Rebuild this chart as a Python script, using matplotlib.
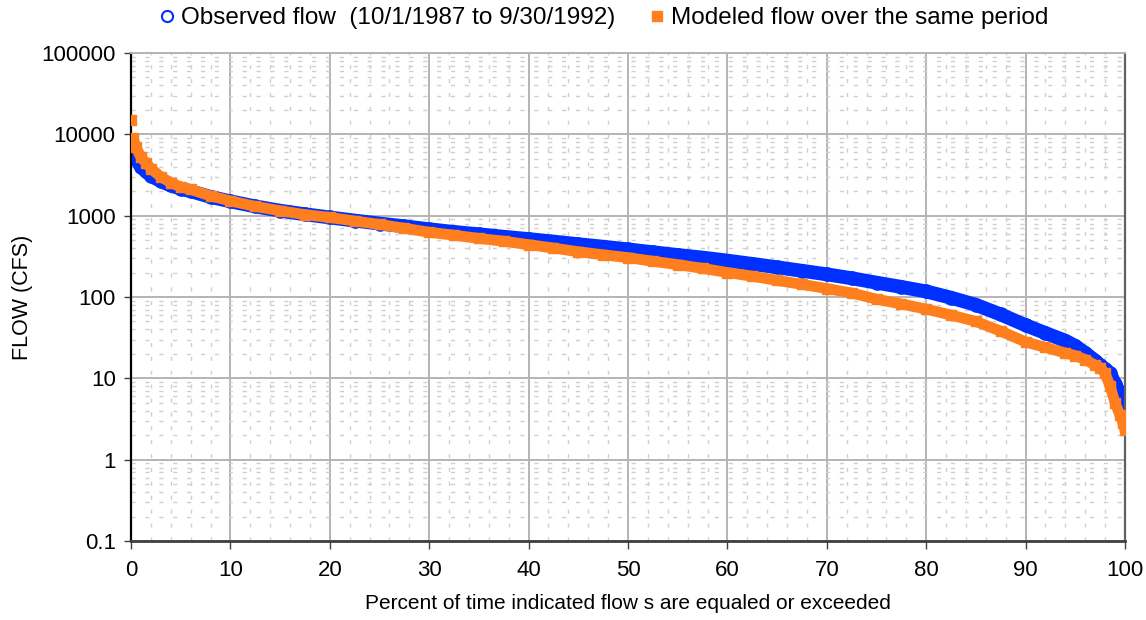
import matplotlib
matplotlib.use("Agg")
import matplotlib.pyplot as plt
from matplotlib.ticker import FixedLocator, MultipleLocator, FuncFormatter, LogLocator, NullFormatter
from matplotlib.lines import Line2D

# ---- data ----
pct = [0, 0.2, 0.5, 1, 1.5, 2, 3, 4, 5, 6, 8, 10, 12.5, 15, 17.5, 20, 22.5, 25, 27.5,
       30, 32.5, 35, 37.5, 40, 42.5, 45, 47.5, 50, 52.5, 55, 57.5, 60, 62.5, 65, 67.5,
       70, 72.5, 75, 77.5, 80, 82.5, 85, 87.5, 90, 92, 94, 95, 96, 97, 97.5, 98, 98.5,
       99, 99.5, 99.8, 100]
observed = [8500, 6500, 5000, 4000, 3500, 3100, 2650, 2350, 2150, 2000, 1700, 1500, 1300,
            1150, 1040, 950, 870, 800, 740, 680, 630, 590, 550, 515, 480, 445, 415, 385,
            355, 328, 305, 280, 255, 232, 210, 190, 170, 150, 133, 117, 98, 80, 61, 45,
            36, 29, 25, 20.5, 16.5, 14.5, 13, 11.5, 8.5, 6.5, 5, 4]
modeled = [15000, 9000, 7000, 5200, 4500, 3800, 3000, 2550, 2250, 2100, 1750, 1520, 1300,
           1150, 1030, 950, 860, 780, 700, 625, 575, 525, 485, 440, 400, 360, 330, 305,
           275, 250, 225, 200, 180, 160, 143, 127, 112, 94, 82, 71, 60, 50, 38, 28,
           24, 20.5, 19, 17, 14.5, 13.5, 11.5, 8, 5, 3.5, 2.8, 2.3]

obs_label = "Observed flow  (10/1/1987 to 9/30/1992)"
mod_label = "Modeled flow over the same period"
xlabel = "Percent of time indicated flow s are equaled or exceeded"
ylabel = "FLOW (CFS)"
x_ticks = [0, 10, 20, 30, 40, 50, 60, 70, 80, 90, 100]
y_ticks = [0.1, 1, 10, 100, 1000, 10000, 100000]

BLUE = "#0030FF"
ORANGE = "#FF7F1E"

plt.rcParams['font.family'] = ['Liberation Sans', 'DejaVu Sans']

fig = plt.figure(figsize=(11.46, 6.2), dpi=100)
ax = fig.add_axes([131/1146, 79/620, 994/1146, 488/620])

ax.set_yscale('log')
ax.set_xlim(0, 100)
ax.set_ylim(0.1, 100000)

# grids
ax.xaxis.set_major_locator(FixedLocator(x_ticks))
ax.xaxis.set_minor_locator(MultipleLocator(2))
ax.yaxis.set_major_locator(FixedLocator(y_ticks))
ax.yaxis.set_minor_locator(LogLocator(base=10, subs=range(2, 10), numticks=20))
ax.yaxis.set_minor_formatter(NullFormatter())
ax.yaxis.set_major_formatter(FuncFormatter(lambda v, p: '%g' % v))
ax.grid(which='major', color='#b4b4b4', lw=1.4, ls='-', zorder=0)
ax.grid(which='minor', color='#cfcfcf', lw=1.0, ls=(0, (3, 7)), zorder=0)
ax.set_axisbelow(True)

# observed: thick band + open circles
ax.plot(pct, observed, color=BLUE, lw=10, solid_capstyle='round', zorder=2)
ax.plot(pct, observed, ls='none', marker='o', ms=9, mfc='none', mec=BLUE, mew=1.5, zorder=2)
# modeled: thick band + squares
ax.plot(pct[1:], modeled[1:], color=ORANGE, lw=7.8, solid_capstyle='butt', zorder=3)
ax.plot(pct, modeled, ls='none', marker='s', ms=7, mfc=ORANGE, mec=ORANGE, zorder=3)

# spines
ax.spines['left'].set_color('black')
ax.spines['left'].set_linewidth(1.6)
ax.spines['bottom'].set_color('#404040')
ax.spines['bottom'].set_linewidth(2)
ax.spines['right'].set_color('#606060')
ax.spines['right'].set_linewidth(1.6)
ax.spines['top'].set_color('#b4b4b4')
ax.spines['top'].set_linewidth(1.4)

ax.tick_params(axis='both', which='major', labelsize=16, length=5, width=1, direction='out', color='#404040')
ax.tick_params(axis='y', which='major', pad=6)
ax.tick_params(axis='x', which='major', pad=8, length=6)
ax.tick_params(which='minor', length=0)

ax.set_xlabel(xlabel, fontsize=15, labelpad=9)
ax.set_ylabel(ylabel, fontsize=15.5, labelpad=6)

handles = [Line2D([], [], ls='none', marker='o', ms=8, mfc='none', mec=BLUE, mew=1.5),
           Line2D([], [], ls='none', marker='s', ms=6.5, mfc=ORANGE, mec=ORANGE)]
fig.legend(handles, [obs_label, mod_label], loc='center', bbox_to_anchor=(604/1146, 1 - 18/620),
           ncol=2, frameon=False, fontsize=17.5, handlelength=0.6, handletextpad=0.3,
           columnspacing=1.4, borderaxespad=0)

fig.savefig('out.png', dpi=100)
